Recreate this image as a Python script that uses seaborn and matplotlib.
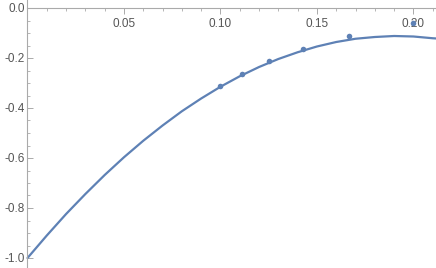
import matplotlib
matplotlib.use("Agg")
import matplotlib.pyplot as plt
import seaborn as sns
import pandas as pd
from matplotlib.ticker import FixedLocator

# fitted curve
curve_x = [0.0, 0.01, 0.02, 0.03, 0.04, 0.05, 0.06, 0.07, 0.08, 0.09, 0.10,
           0.11, 0.12, 0.13, 0.14, 0.15, 0.16, 0.17, 0.18, 0.19, 0.20, 0.21, 0.212]
curve_y = [-1.000, -0.910, -0.824, -0.744, -0.668, -0.597, -0.531, -0.470, -0.413,
           -0.362, -0.315, -0.273, -0.236, -0.204, -0.177, -0.154, -0.136, -0.123,
           -0.116, -0.112, -0.114, -0.121, -0.122]

# data points
pts_x = [0.1, 0.1111, 0.125, 0.1429, 0.1667, 0.2]
pts_y = [-0.312, -0.262, -0.213, -0.165, -0.112, -0.058]

x_ticks = [0.05, 0.10, 0.15, 0.20]
x_labels = ["0.05", "0.10", "0.15", "0.20"]
y_ticks = [0.0, -0.2, -0.4, -0.6, -0.8, -1.0]
y_labels = ["0.0", "-0.2", "-0.4", "-0.6", "-0.8", "-1.0"]

blue = "#5E81B5"
gray = "#aaaaaa"

sns.set_style("white")
plt.rcParams["font.family"] = ["Liberation Sans", "DejaVu Sans"]
fig = plt.figure(figsize=(4.36, 2.68), dpi=100)
ax = fig.add_axes([0, 0, 1, 1])

df_curve = pd.DataFrame({"x": curve_x, "y": curve_y})
df_pts = pd.DataFrame({"x": pts_x, "y": pts_y})
sns.lineplot(data=df_curve, x="x", y="y", sort=False, color=blue, linewidth=1.6, ax=ax)
sns.scatterplot(data=df_pts, x="x", y="y", color=blue, s=16, linewidth=0, ax=ax, zorder=3)

ax.set_xlim(-0.01425, 0.2117)
ax.set_ylim(-1.04, 0.032)

for s in ["top", "right"]:
    ax.spines[s].set_visible(False)
ax.spines["left"].set_position(("data", 0))
ax.spines["bottom"].set_position(("data", 0))
ax.spines["bottom"].set_bounds(0, 0.2117)
for s in ["left", "bottom"]:
    ax.spines[s].set_color(gray)
    ax.spines[s].set_linewidth(0.8)

ax.xaxis.set_major_locator(FixedLocator(x_ticks))
ax.set_xticklabels(x_labels)
ax.xaxis.set_minor_locator(FixedLocator([i * 0.01 for i in range(1, 22) if i % 5 != 0]))
ax.yaxis.set_major_locator(FixedLocator(y_ticks))
ax.set_yticklabels(y_labels)
ax.yaxis.set_minor_locator(FixedLocator([-0.05 * i for i in range(1, 21) if i % 4 != 0]))

ax.tick_params(axis="x", which="both", direction="out", colors=gray, labelcolor="#555555",
               labelsize=8.5, pad=3, bottom=True)
ax.tick_params(axis="y", which="both", direction="in", colors=gray, labelcolor="#555555",
               labelsize=8.5, pad=2, left=True)
ax.tick_params(which="major", length=4, width=0.7)
ax.tick_params(which="minor", length=2.5, width=0.6)

ax.set_xlabel("")
ax.set_ylabel("")

fig.savefig("out.png", dpi=100)
